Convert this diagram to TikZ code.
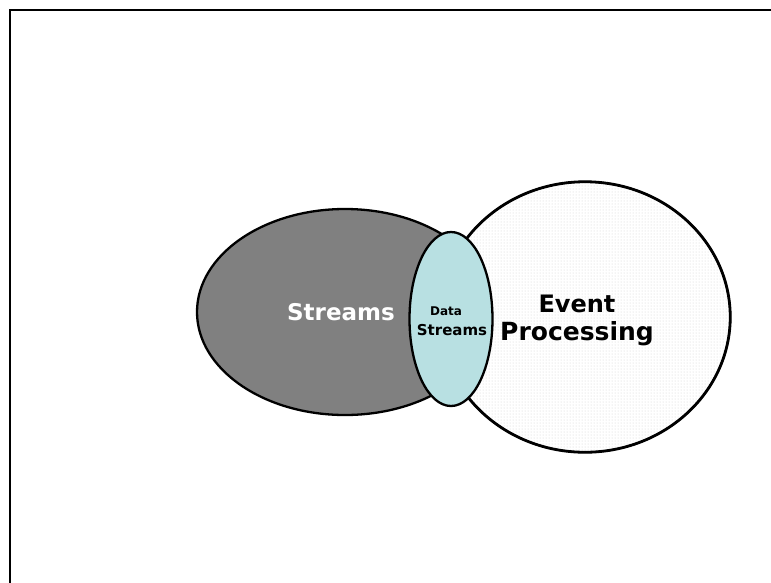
\documentclass[tikz,border=0pt]{standalone}
\usepackage{fontspec}
\setmainfont{DejaVu Sans}
\usetikzlibrary{shapes.geometric,patterns}
\tikzset{
  blob/.style={ellipse, draw=black, line width=2.3pt, inner sep=0pt},
  bigword/.style={font=\bfseries\fontsize{24}{26}\selectfont, anchor=base, inner sep=0pt},
  smallword/.style={font=\bfseries\fontsize{15}{17}\selectfont, anchor=base, inner sep=0pt},
}
\begin{document}
\begin{tikzpicture}[x=1pt, y=-1pt]
  \useasboundingbox (0,0) rectangle (771,582);
  % page frame, running off the right and bottom edges
  \draw[line width=2pt] (10,600) -- (10,10) -- (790,10);

  % the three sets
  \node[blob, fill=black!50, minimum width=296pt, minimum height=206pt] (streams) at (345,312) {};
  \node[blob, fill=white, minimum width=291pt, minimum height=271pt] (events) at (585,317) {};
  \node[ellipse, inner sep=0pt, pattern=dots, pattern color=black!18, minimum width=288pt, minimum height=268pt] (eventsdots) at (585,317) {};
  \draw[line width=2.3pt] (events.center) ellipse[x radius=145pt, y radius=135pt];
  \node[blob, fill={rgb,255:red,184;green,224;blue,226}, minimum width=83pt, minimum height=174pt] (lens) at (451,319) {};

  % labels
  \node[bigword, text=white, font=\bfseries\fontsize{23}{26}\selectfont] (streamslabel) at (341,320) {Streams};
  \node[bigword] (eventlabel) at (577,312) {Event};
  \node[bigword, font=\bfseries\fontsize{25}{27}\selectfont] (processinglabel) at (577,340) {Processing};
  \node[smallword, font=\bfseries\fontsize{12}{14}\selectfont] (datalabel) at (446,315) {Data};
  \node[smallword] (dslabel) at (452,335) {Streams};
\end{tikzpicture}
\end{document}
